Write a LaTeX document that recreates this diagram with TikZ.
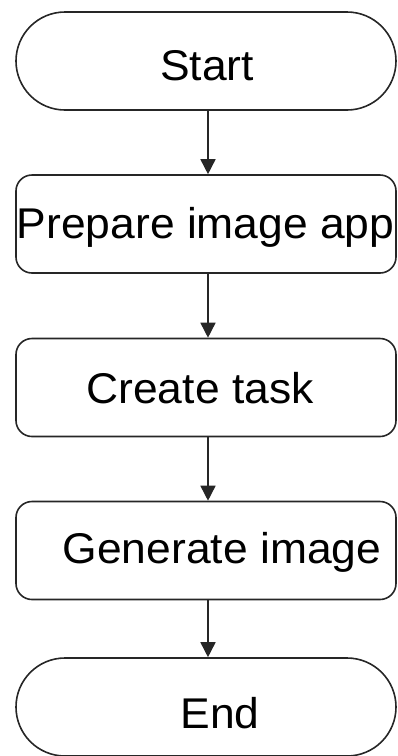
\documentclass[tikz,border=0pt]{standalone}
\usepackage{fontspec}
\setmainfont{Liberation Sans}[FakeStretch=1.033]
\usetikzlibrary{arrows.meta}
\begin{document}
\begin{tikzpicture}[x=1pt,y=1pt,
  box/.style={draw=black!85, line width=1.6pt, rectangle, minimum width=380pt, minimum height=98pt, inner sep=0pt, rounded corners=16pt},
  term/.style={box, rounded corners=49pt},
  txt/.style={font=\fontsize{43}{50}\selectfont, inner sep=0pt, anchor=base, text=black},
  arr/.style={draw=black!85, line width=1.6pt, -{Triangle[width=15pt,length=15pt]}}]
\useasboundingbox (0,0) rectangle (397,-756);
\clip (0,0) rectangle (397,-756);
\node[term] (start) at (206,-61) {};
\node[box]  (prep)  at (206,-224) {};
\node[box]  (create) at (206,-387.5) {};
\node[box]  (gen)   at (206,-550.5) {};
\node[term] (end)   at (206,-707) {};
\node[txt] (tstart) at (207,-80) {Start};
\node[txt, anchor=base west] (tprep) at (16.5,-238) {Prepare image app};
\node[txt] (tcreate) at (200,-403) {Create task};
\node[txt] (tgen) at (222,-563) {Generate image};
\node[txt] (tend) at (220,-728) {End};
\draw[arr] ([xshift=2pt]start.south) -- ([xshift=2pt]prep.north);
\draw[arr] ([xshift=2pt]prep.south) -- ([xshift=2pt]create.north);
\draw[arr] ([xshift=2pt]create.south) -- ([xshift=2pt]gen.north);
\draw[arr] ([xshift=2pt]gen.south) -- ([xshift=2pt]end.north);
\end{tikzpicture}
\end{document}
